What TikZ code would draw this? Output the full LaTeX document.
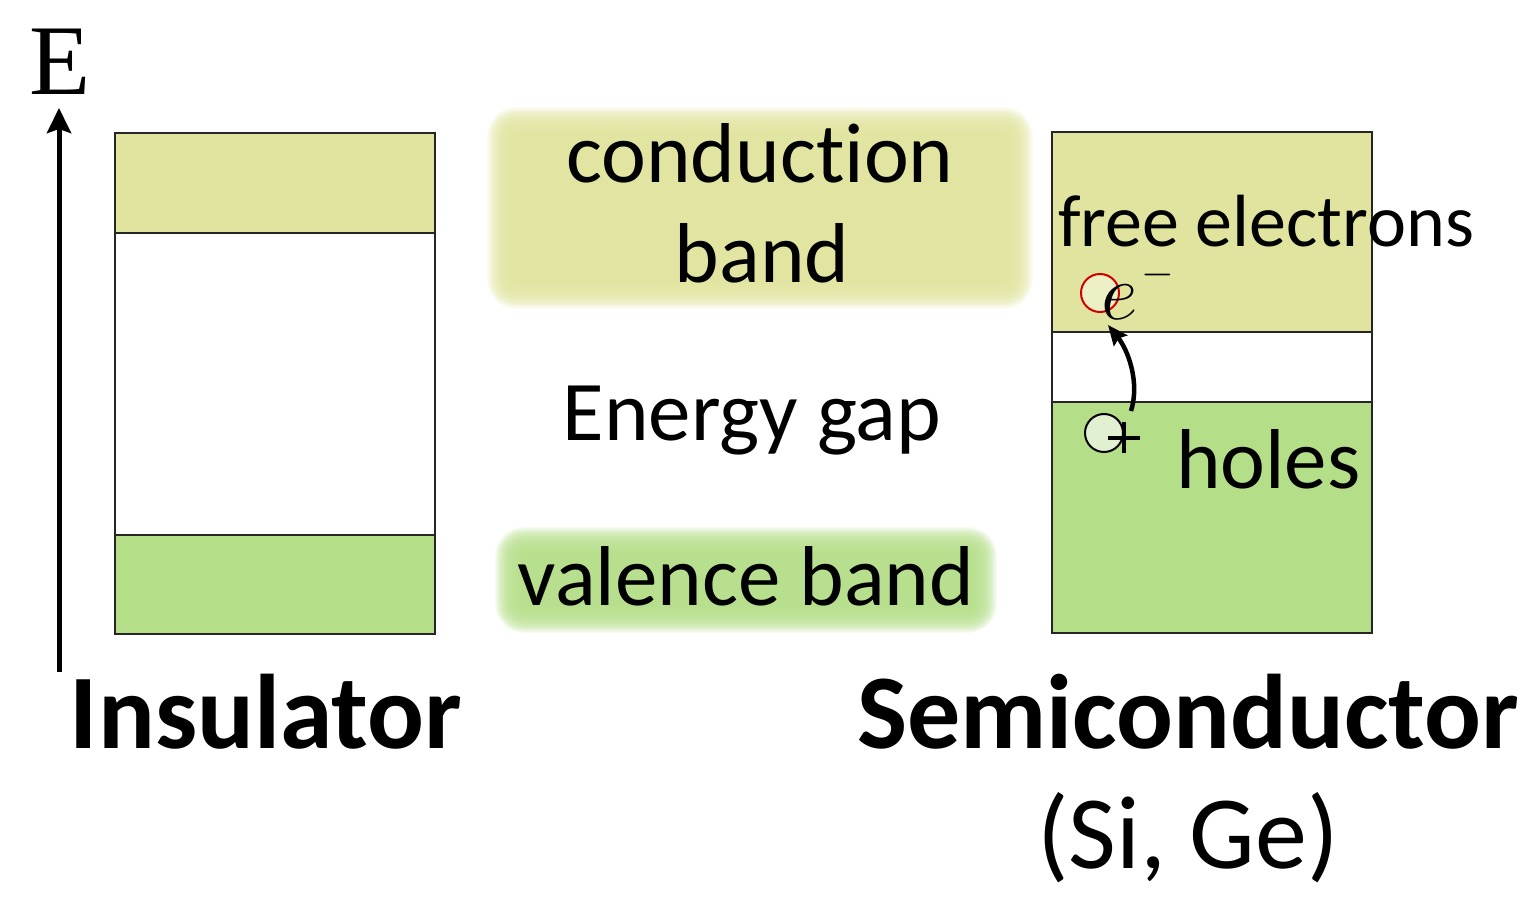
\RequirePackage{fix-cm}
\documentclass[tikz,border=0pt]{standalone}
\usepackage{fontspec}
\setmainfont{Carlito}[Ligatures={NoCommon}]
\newfontfamily\serifE{Liberation Serif}
\usetikzlibrary{arrows.meta}
\definecolor{cb}{RGB}{225,228,158}
\definecolor{vb}{RGB}{181,222,137}
\definecolor{ecirc}{RGB}{237,239,197}
\definecolor{hcirc}{RGB}{224,240,208}
\definecolor{redc}{RGB}{204,0,0}
\begin{document}
\begin{tikzpicture}[x=1pt,y=-1pt,
  band/.style={draw=black!85, line width=2pt, inner sep=0pt, outer sep=0pt, minimum width=320pt},
  txt/.style={inner sep=0pt, outer sep=0pt, anchor=base, font=\fontsize{85}{100}\selectfont},
  bigtxt/.style={inner sep=0pt, outer sep=0pt, anchor=base, font=\fontsize{106}{120}\selectfont\bfseries},
  particle/.style={circle, inner sep=0pt, minimum size=38pt, line width=2pt}]
\useasboundingbox (0,0) rectangle (1527,909);
% glow behind labels
\foreach \k in {0,...,24}{
  \fill[cb, opacity=0.13, rounded corners={1.2*\k}] ({516-1.2*\k},{136-1.2*\k}) rectangle ({1004+1.2*\k},{280+1.2*\k});
  \fill[vb, opacity=0.13, rounded corners={1.2*\k}] ({524-1.2*\k},{556-1.2*\k}) rectangle ({968+1.2*\k},{604+1.2*\k});
}
% axis
\coordinate (axb) at (59,672);
\coordinate (axt) at (59,108);
\draw[line width=5pt, -{Stealth[length=25pt,width=24pt,inset=4pt]}] (axb) -- (axt);
\node[inner sep=0pt, font=\fontsize{100}{120}\selectfont\serifE] (E) at (60,62) {E};
% insulator bands
\node[band, fill=cb, minimum height=100pt] (icb) at (275,183) {};
\node[band, fill=white, minimum height=302pt] (igap) at (275,384) {};
\node[band, fill=vb, minimum height=99pt] (ivb) at (275,584.5) {};
% semiconductor bands
\node[band, fill=cb, minimum height=200pt] (scb) at (1212,232) {};
\node[band, fill=white, minimum height=70pt] (sgap) at (1212,367) {};
\node[band, fill=vb, minimum height=231pt] (svb) at (1212,517.5) {};
% labels
\node[txt] (cond) at (760,183) {conduction};
\node[txt] (band) at (762,283) {band};
\node[txt] (gap) at (752,440) {Energy gap};
\node[txt] (val) at (746,605) {valence band};
\node[bigtxt] (ins) at (266,748) {Insulator};
\node[bigtxt] (semi) at (1188,748) {Semiconductor};
\node[txt, font=\fontsize{104}{120}\selectfont] (sige) at (1188,868) {(Si, Ge)};
\node[txt, anchor=base west, font=\fontsize{74}{90}\selectfont] (free) at (1058,247) {free electrons};
\node[txt, anchor=base west] (holes) at (1176,488) {holes};
% particles
\node[particle, draw=redc, fill=ecirc] (ec) at (1100,293) {};
\node[particle, draw=black, fill=hcirc] (hc) at (1104,433) {};
\draw[line width=4pt] ([shift={(4,5)}]hc.center) -- ++(32,0);
\draw[line width=4pt] ([shift={(20,-11)}]hc.center) -- ++(0,31);
\node[inner sep=0pt, anchor=base west, font=\fontsize{80}{100}\selectfont] (e) at (1101,320) {$e$\hspace{4pt}\raisebox{34pt}{\fontsize{42}{42}\selectfont$\mathbf{-}$}};
% excitation arrow
\coordinate (as) at (1131,411);
\coordinate (ae) at (1108,325);
\draw[line width=4.5pt, -{Stealth[length=20pt,width=17pt,inset=3pt]}] (as) .. controls (1140,382) and (1128,350) .. (ae);
\end{tikzpicture}
\end{document}
